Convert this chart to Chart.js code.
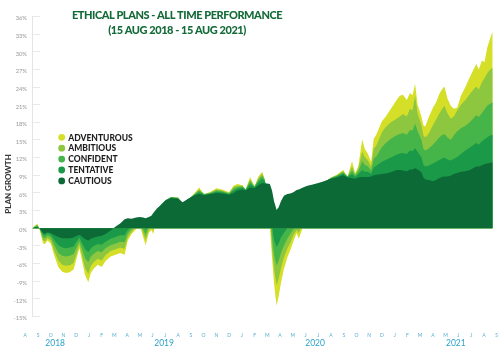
<!DOCTYPE html>
<html>
<head>
<meta charset="utf-8">
<script src="https://cdn.jsdelivr.net/npm/chart.js@4"></script>
<style>
  html, body { margin: 0; padding: 0; background: #fff; }
</style>
</head>
<body>
<canvas id="perf" width="500" height="349"></canvas>
<script>
// x position of each reading, in months since 1 Aug 2018
const months = [
  0.55, 0.8, 0.95, 1.15, 1.4, 1.55, 1.75, 2.0, 2.3, 2.6, 2.9, 3.2, 3.5, 3.8, 4.05, 4.25, 4.45, 4.7, 4.95,
  5.15, 5.4, 5.7, 6.0, 6.3, 6.7, 7.1, 7.45, 7.8, 8.05, 8.35, 8.7, 9.0, 9.25, 9.45, 9.7, 9.9, 10.05,
  10.35, 10.7, 11.05, 11.45, 12.0, 12.35, 12.8, 13.3, 13.65, 14.05, 14.55, 15.0, 15.45, 16.0, 16.35,
  16.65, 17.05, 17.3, 17.65, 18.0, 18.3, 18.6, 18.8, 19.0, 19.2, 19.37, 19.53, 19.73, 19.9, 20.07,
  20.3, 20.57, 20.8, 21.05, 21.3, 21.47, 21.8, 22.15, 22.5, 23.0, 23.45, 24.0, 24.45, 24.95, 25.3,
  25.65, 25.9, 26.15, 26.45, 26.65, 26.9, 27.15, 27.35, 27.55, 28.0, 28.3, 28.7, 29.15, 29.4, 29.65,
  29.95, 30.2, 30.4, 30.6, 30.8, 31.1, 31.25, 31.4, 31.65, 32.0, 32.25, 32.5, 32.7, 32.9, 33.15, 33.4,
  33.65, 33.9, 34.2, 34.55, 34.9, 35.15, 35.4, 35.6, 35.85, 36.05, 36.25, 36.45, 36.69
];

// plan growth, %
const adventurous = [
  0, 0.5, 0.8, -0.4, -2.6, -2.7, -2.1, -2.6, -4.8, -6.6, -7.4, -7.6, -7.5, -7.0, -5.0, -3.4, -5.5, -8.0, -9.2,
  -7.6, -6.8, -6.2, -6.6, -5.6, -4.8, -4.5, -4.2, -4.5, -2.1, -1.0, -0.2, 0.4, -1.5, -2.9, -0.8, -0.3, -1.0,
  2.6, 4.0, 4.6, 5.3, 5.2, 3.8, 4.7, 6.0, 6.9, 5.7, 6.2, 6.8, 6.6, 6.1, 7.2,
  7.5, 7.3, 6.6, 8.7, 7.1, 8.8, 9.6, 8.3, 4.0, 0.5, -5.0, -9.5, -13.2, -11.5, -9.3,
  -7.0, -5.0, -3.8, -2.2, -0.8, -1.8, 0.2, 4.0, 5.8, 7.2, 7.6, 8.6, 9.1, 9.9, 8.8,
  11.4, 9.3, 10.6, 15.1, 13.5, 12.6, 11.3, 15.2, 15.9, 18.2, 19.0, 20.3, 21.8, 22.5, 22.7,
  21.8, 23.0, 22.6, 24.5, 21.0, 19.0, 17.5, 17.3, 18.8, 20.5, 21.4, 22.8, 23.6, 24.1, 22.0, 20.8,
  20.3, 20.5, 22.5, 24.0, 25.7, 26.8, 27.9, 27.0, 28.5, 28.2, 30.6, 32.0, 33.5
];
const ambitious = [
  0, 0.4, 0.6, -0.3, -2.1, -2.2, -1.7, -2.1, -4.0, -5.5, -6.2, -6.4, -6.3, -5.9, -4.2, -2.8, -4.6, -6.8, -7.8,
  -6.4, -5.7, -5.2, -5.5, -4.6, -3.9, -3.6, -3.3, -3.5, -1.5, -0.6, 0.2, 0.7, -0.8, -2.0, -0.3, 0.2, -0.4,
  2.8, 4.0, 4.7, 5.3, 5.2, 4.0, 4.8, 5.9, 6.6, 5.8, 6.1, 6.6, 6.4, 6.0, 7.0,
  7.2, 7.2, 6.6, 8.3, 7.1, 8.5, 9.3, 8.3, 5.0, 2.0, -3.5, -7.0, -9.7, -8.5, -6.8,
  -5.0, -3.5, -2.5, -1.2, -0.3, -0.8, 1.0, 4.5, 6.0, 7.3, 7.7, 8.6, 9.0, 9.7, 8.8,
  10.5, 9.2, 10.2, 13.0, 12.1, 11.5, 10.5, 13.5, 14.0, 16.3, 17.2, 18.0, 18.6, 19.0, 19.4,
  19.0, 20.3, 20.0, 22.5, 19.5, 17.5, 15.8, 15.4, 16.0, 17.5, 18.5, 19.5, 20.2, 20.8, 19.5, 18.6,
  19.0, 20.0, 21.0, 21.8, 22.8, 23.5, 24.1, 23.6, 24.8, 25.5, 26.3, 26.9, 27.3
];
const confident = [
  0, 0.3, 0.45, -0.2, -1.6, -1.7, -1.3, -1.6, -3.0, -4.2, -4.7, -4.8, -4.7, -4.4, -3.2, -2.2, -3.5, -5.1, -5.8,
  -4.8, -4.3, -3.9, -4.1, -3.4, -2.9, -2.6, -2.3, -2.4, -0.9, -0.2, 0.5, 1.0, -0.2, -1.1, 0.3, 0.6, 0.2,
  3.0, 4.1, 4.8, 5.3, 5.1, 4.2, 4.9, 5.8, 6.4, 5.8, 6.0, 6.4, 6.3, 5.9, 6.7,
  7.0, 7.1, 6.6, 8.0, 7.1, 8.2, 8.9, 8.2, 6.0, 3.5, -1.5, -4.5, -6.4, -5.5, -4.2,
  -3.0, -1.8, -1.0, -0.2, 0.3, 0.0, 2.0, 5.0, 6.2, 7.4, 7.8, 8.5, 8.9, 9.5, 8.8,
  9.8, 9.0, 9.7, 11.4, 10.8, 10.5, 9.8, 11.8, 12.2, 13.8, 14.5, 15.2, 15.8, 16.0, 16.2,
  15.9, 16.7, 16.6, 17.8, 16.5, 15.0, 13.5, 13.2, 13.5, 14.2, 14.8, 15.4, 15.8, 16.0, 15.4, 15.0,
  15.8, 16.5, 17.0, 17.4, 18.0, 18.6, 19.2, 18.9, 19.6, 20.2, 20.8, 21.1, 21.4
];
const tentative = [
  0, 0.2, 0.3, -0.1, -1.1, -1.2, -0.9, -1.1, -2.1, -2.9, -3.3, -3.4, -3.3, -3.1, -2.2, -1.6, -2.5, -3.6, -4.1,
  -3.4, -3.0, -2.7, -2.8, -2.3, -1.8, -1.5, -1.2, -1.2, -0.3, 0.3, 0.8, 1.3, 0.5, -0.3, 0.8, 1.1, 0.9,
  3.2, 4.1, 4.8, 5.2, 5.1, 4.3, 5.0, 5.7, 6.1, 5.7, 5.9, 6.2, 6.1, 5.8, 6.4,
  6.7, 6.9, 6.5, 7.5, 7.0, 7.8, 8.4, 8.0, 7.0, 5.0, 0.5, -2.0, -3.2, -2.5, -1.6,
  -0.8, 0.0, 0.4, 1.2, 1.8, 1.6, 3.0, 5.5, 6.5, 7.5, 7.9, 8.5, 8.8, 9.3, 8.7,
  9.2, 8.7, 9.2, 9.9, 9.6, 9.6, 9.2, 10.3, 10.6, 11.3, 11.6, 12.0, 12.5, 12.7, 12.8,
  12.6, 13.2, 13.1, 13.6, 13.0, 12.0, 10.8, 10.5, 10.6, 11.0, 11.3, 11.6, 11.8, 12.0, 11.7, 11.5,
  11.8, 12.1, 12.6, 13.2, 13.7, 14.1, 14.5, 14.2, 14.8, 15.1, 15.4, 15.7, 15.9
];
const cautious = [
  0, 0.1, 0.15, -0.1, -0.8, -0.9, -0.7, -0.8, -1.2, -1.5, -1.7, -1.7, -1.7, -1.6, -1.3, -1.1, -1.4, -1.9, -2.1,
  -1.8, -1.6, -1.4, -1.3, -1.0, -0.4, 0.3, 0.8, 1.5, 1.7, 1.6, 1.8, 1.9, 1.8, 1.7, 1.9, 2.1, 2.6,
  3.4, 4.0, 4.8, 5.1, 5.0, 4.4, 5.0, 5.6, 5.8, 5.6, 5.8, 6.0, 5.9, 5.7, 6.0,
  6.4, 6.6, 6.4, 6.9, 6.8, 7.3, 7.7, 7.6, 7.6, 7.5, 6.4, 4.6, 3.1, 3.6, 4.6,
  5.5, 5.8, 5.9, 6.1, 6.5, 6.6, 6.9, 7.2, 7.4, 7.7, 8.0, 8.4, 8.6, 9.0, 8.6,
  8.5, 8.4, 8.6, 8.7, 8.7, 8.7, 8.8, 9.0, 9.1, 9.2, 9.3, 9.5, 9.9, 9.9, 9.8,
  9.7, 10.0, 10.0, 10.2, 10.0, 9.5, 8.6, 8.3, 8.2, 8.0, 8.2, 8.5, 8.7, 8.8, 8.8, 8.9,
  9.2, 9.4, 9.6, 9.7, 9.9, 10.2, 10.5, 10.5, 10.7, 10.9, 11.0, 11.1, 11.2
];

const planNames = ['CAUTIOUS', 'TENTATIVE', 'CONFIDENT', 'AMBITIOUS', 'ADVENTUROUS'];
const planSeries = [cautious, tentative, confident, ambitious, adventurous];
const planColours = ['#0c6a36', '#1a9948', '#45b54a', '#8dc63f', '#d5df27'];

const monthLabels = [
  'A', 'S', 'O', 'N', 'D',
  'J', 'F', 'M', 'A', 'M', 'J', 'J', 'A', 'S', 'O', 'N', 'D',
  'J', 'F', 'M', 'A', 'M', 'J', 'J', 'A', 'S', 'O', 'N', 'D',
  'J', 'F', 'M', 'A', 'M', 'J', 'J', 'A', 'S'
];
const yearLabels = ['2018', '2019', '2020', '2021'];

// heading and the rotated axis caption
const headings = {
  id: 'headings',
  afterDraw(chart) {
    const c = chart.ctx;
    c.save();
    c.fillStyle = '#146a39';
    c.font = '900 11px Lato';
    c.letterSpacing = '-0.45px';
    c.textAlign = 'center';
    c.textBaseline = 'middle';
    c.fillText('ETHICAL PLANS - ALL TIME PERFORMANCE', 177, 15.5);
    c.fillText('(15 AUG 2018 - 15 AUG 2021)', 177, 30);
    c.letterSpacing = '0px';
    c.translate(8, 184);
    c.rotate(-Math.PI / 2);
    c.fillStyle = '#3a3a3a';
    c.font = '900 8px Lato';
    c.fillText('PLAN GROWTH', 0, 0);
    c.restore();
  }
};

// dot legend, riskiest plan first
const planLegend = {
  id: 'planLegend',
  afterDraw(chart) {
    const c = chart.ctx;
    const sets = chart.data.datasets.slice().reverse();
    c.save();
    c.font = '900 8.5px Lato';
    c.textBaseline = 'middle';
    sets.forEach((ds, i) => {
      const y = 137.3 + i * 10.9;
      c.fillStyle = ds.backgroundColor;
      c.beginPath();
      c.arc(61.7, y, 3.4, 0, Math.PI * 2);
      c.fill();
      c.fillStyle = '#1e1e1e';
      c.fillText(ds.label, 68.3, y + 0.5);
    });
    c.restore();
  }
};

const ctx = document.getElementById('perf').getContext('2d');
const perfChart = new Chart(ctx, {
  type: 'line',
  data: {
    datasets: planNames.map((name, i) => ({
      label: name,
      data: months.map((m, j) => ({ x: m, y: planSeries[i][j] })),
      backgroundColor: planColours[i],
      borderWidth: 0,
      pointRadius: 0,
      fill: 'origin',
    })),
  },
  options: {
    responsive: false,
    animation: false,
    layout: { padding: { top: 5.8, right: 3, left: 0, bottom: 0 } },
    plugins: {
      legend: { display: false },
      tooltip: { enabled: false },
    },
    scales: {
      x: {
        type: 'linear',
        min: 0.53,
        max: 37.03,
        grid: { display: false, drawTicks: false },
        border: { display: false },
        afterBuildTicks: (s) => { s.ticks = monthLabels.map((_, i) => ({ value: i })); },
        afterFit: (s) => { s.height = 22; s.paddingLeft = 0; s.paddingRight = 0; },
        ticks: {
          autoSkip: false,
          maxRotation: 0,
          minRotation: 0,
          padding: 15.6,
          color: '#5aaed0',
          font: { family: 'Lato', size: 5, lineHeight: 1.2 },
          callback: (v, i) => monthLabels[i],
        },
      },
      years: {
        type: 'linear',
        axis: 'x',
        position: 'bottom',
        weight: 1,
        min: 0.53,
        max: 37.03,
        grid: { display: false, drawTicks: false },
        border: { display: false },
        afterBuildTicks: (s) => { s.ticks = [2.35, 10.9, 22.75, 33.8].map((v) => ({ value: v })); },
        afterFit: (s) => { s.height = 10.6; s.paddingLeft = 0; s.paddingRight = 0; },
        ticks: {
          autoSkip: false,
          maxRotation: 0,
          minRotation: 0,
          padding: 0.6,
          color: '#2ea2c8',
          font: { family: 'Lato', size: 8.5, lineHeight: 1 },
          callback: (v, i) => yearLabels[i],
        },
      },
      y: {
        min: -15,
        max: 36,
        afterFit: (s) => { s.width = 32; },
        grid: { drawOnChartArea: false, tickLength: -8, color: '#e9e9e9' },
        border: { color: '#e4e4e4' },
        ticks: {
          stepSize: 3,
          padding: 13,
          labelOffset: 2,
          color: '#999999',
          font: { family: 'Lato', size: 5.8 },
          callback: (v) => v + '%',
        },
      },
    },
  },
  plugins: [headings, planLegend],
});
</script>
</body>
</html>
